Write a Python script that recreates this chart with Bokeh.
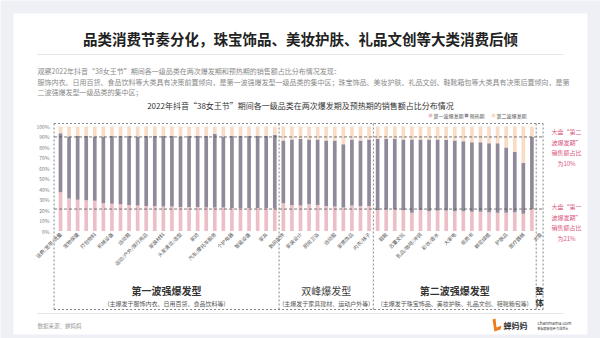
from bokeh.plotting import figure
from bokeh.models import Range1d
from bokeh.core.properties import value
from bokeh.embed import file_html
from bokeh.resources import INLINE

# ---------------- data ----------------
categories = [
    "话费/宽带/流量", "服饰配件", "宠物保健", "日用百货", "打包物料", "食品饮料", "机械设备", "服饰内衣",
    "运动鞋", "个护家清", "运动/户外/旅行用品", "厨房用具", "家装材料", "收纳整理", "头发清洁/造型", "母婴用品",
    "家纺", "汽车用品", "汽车/摩托车服务", "生鲜", "个护电器", "酒类", "智能设备", "手机", "家具", "电脑/办公",
    "数码配件", "家居日用", "家装设计", "灯具照明", "厨房卫浴", "户外装备", "运动服", "五金工具", "家居饰品", "运动器材",
    "内衣/袜子", "鞋靴箱包", "鞋靴", "玩具乐器", "古董文玩", "图书音像", "乳品/咖啡/冲调", "礼品文创", "彩妆/香水",
    "钟表配饰", "大家电", "营养保健", "纸质书", "珠宝饰品", "鲜花绿植", "美妆护肤", "护肤品", "箱包", "医疗器械",
    "奢侈品", "大盘",
]
first_wave = [
    37.0, 31.0, 30.0, 29.5, 29.0, 26.5, 26.0, 25.5, 25.0, 24.5, 24.0, 24.0, 23.5,
    23.5, 23.0, 23.0, 23.0, 22.5, 22.5, 22.5, 22.0, 22.0, 22.0, 22.0, 22.0, 21.5,
    26.5, 25.0, 24.5, 25.5, 25.0, 24.0, 23.5, 22.5, 24.5, 24.0, 24.0,
    20.0, 20.5, 20.5, 20.0, 17.5, 20.0, 19.0, 19.5, 19.5, 19.0, 19.0, 18.5, 18.5,
    18.0, 17.5, 17.5, 18.0, 16.5,
    21.0,
]
preheat = [
    56.5, 59.5, 61.0, 61.5, 61.5, 64.0, 65.0, 65.5, 66.0, 66.0, 67.0, 67.0, 67.5,
    67.5, 67.5, 68.0, 68.0, 68.5, 70.5, 68.0, 69.0, 69.0, 69.0, 69.0, 69.0, 70.5,
    60.0, 62.5, 63.5, 62.0, 62.5, 62.5, 63.0, 60.5, 63.0, 62.5, 63.5,
    68.0, 67.5, 67.5, 67.5, 70.0, 67.5, 68.5, 68.0, 67.5, 67.5, 67.0, 66.5, 66.5,
    66.0, 66.5, 62.5, 57.5, 48.5,
    69.0,
]
second_wave = [
    6.5, 9.5, 9.0, 9.0, 9.5, 9.5, 9.0, 9.0, 9.0, 9.5, 9.0, 9.0, 9.0,
    9.0, 9.5, 9.0, 9.0, 9.0, 7.0, 9.5, 9.0, 9.0, 9.0, 9.0, 9.0, 8.0,
    13.5, 12.5, 12.0, 12.5, 12.5, 13.5, 13.5, 17.0, 12.5, 13.5, 12.5,
    12.0, 12.0, 12.0, 12.5, 12.5, 12.5, 12.5, 12.5, 13.0, 13.5, 14.0, 15.0, 15.0,
    16.0, 16.0, 20.0, 24.5, 35.0,
    10.0,
]
group_sizes = [26, 11, 19, 1]
group_titles = ["第一波强爆发型", "双峰爆发型", "第二波强爆发型", "整\n体"]
group_notes = ["(主爆发于服饰内衣、日用百货、食品饮料等)", "(主爆发于家具建材、运动户外等)",
               "(主爆发于珠宝饰品、美妆护肤、礼品文创、鞋靴箱包等)", ""]
ref_first_wave = 21
ref_second_wave = 10
y_ticks = [0, 10, 20, 30, 40, 50, 60, 70, 80, 90, 100]
series_names = ["第一波爆发期", "预热期", "第二波爆发期"]

# ---------------- styling ----------------
FONT = value("Noto Sans CJK SC")
C_FIRST = "#ECBFC7"
C_PRE = "#8F8999"
C_SECOND = "#F9DCC6"
C_NOTE = "#D9577E"

n = len(categories)
xs = list(range(n))
step = 8.571
x0 = 60.0
p = figure(width=600, height=338, x_range=Range1d(-x0 / step, (600 - x0) / step),
           y_range=Range1d(-(338 - 230.5) / 1.045, 100 + 126 / 1.045),
           output_backend="svg", toolbar_location=None, min_border=0,
           x_axis_location=None, y_axis_location=None)
p.grid.visible = False
p.outline_line_color = None
p.background_fill_color = "#EEF0F6"
p.border_fill_color = "#EEF0F6"
p.extra_x_ranges = {"px": Range1d(0, 600)}
p.extra_y_ranges = {"px": Range1d(338, 0)}
PX = dict(x_range_name="px", y_range_name="px")

# card
p.quad(left=13, right=587, top=13, bottom=334, fill_color="white", line_color=None, **PX)

# title + separators
p.text(x=[300], y=[38], text=["品类消费节奏分化，珠宝饰品、美妆护肤、礼品文创等大类消费后倾"],
       text_font=FONT, text_font_size="14.5px", text_font_style="bold", text_color="#222222",
       text_align="center", text_baseline="middle", **PX)
p.segment(x0=[37, 37], y0=[54, 313], x1=[563, 563], y1=[54, 313], line_color="#E6E6E6", line_width=1, **PX)

body = ["观察2022年抖音“38女王节”期间各一级品类在两次爆发期和预热期的销售额占比分布情况发现：",
        "服饰内衣、日用百货、食品饮料等大类具有决策前置倾向，是第一波强爆发型一级品类的集中区；珠宝饰品、美妆护肤、礼品文创、鞋靴箱包等大类具有决策后置倾向，是第",
        "二波强爆发型一级品类的集中区；"]
p.text(x=[37, 37, 37], y=[70, 81, 91.5], text=body, text_font=FONT, text_font_size="7px",
       text_color="#8A8A8A", text_align="left", text_baseline="middle", **PX)
p.text(x=[300], y=[105], text=["2022年抖音“38女王节”期间各一级品类在两次爆发期及预热期的销售额占比分布情况"],
       text_font=FONT, text_font_size="8px", text_color="#333333", text_align="center",
       text_baseline="middle", **PX)

# legend
lx = [430, 466, 493]
p.rect(x=lx, y=[115] * 3, width=3.5, height=3.5, fill_color=[C_FIRST, C_PRE, C_SECOND],
       line_color=None, **PX)
p.text(x=[v + 3 for v in lx], y=[115] * 3, text=series_names, text_font=FONT, text_font_size="5px",
       text_color="#555555", text_align="left", text_baseline="middle", **PX)

# stacked bars
bw = 0.43
bot2 = [a + b for a, b in zip(first_wave, preheat)]
top3 = [a + b for a, b in zip(bot2, second_wave)]
p.vbar(x=xs, bottom=0, top=first_wave, width=bw, fill_color=C_FIRST, line_color=None)
p.vbar(x=xs, bottom=first_wave, top=bot2, width=bw, fill_color=C_PRE, line_color=None)
p.vbar(x=xs, bottom=bot2, top=top3, width=bw, fill_color=C_SECOND, line_color=None)

# y ticks
p.text(x=[49] * len(y_ticks), y=y_ticks, text=[f"{t}%" for t in y_ticks], text_font=FONT,
       text_font_size="5px", text_color="#777777", text_align="right", text_baseline="middle",
       x_range_name="px")

# x labels (every other)
lab_idx = xs[::2]
p.text(x=lab_idx, y=[-2] * len(lab_idx), text=[categories[i] for i in lab_idx], angle=0.785398,
       text_font=FONT, text_font_size="5px", text_color="#555555", text_align="right",
       text_baseline="middle")

# reference lines
p.segment(x0=[-0.75, -0.75], x1=[n - 0.7, n - 0.7], y0=[100 - ref_second_wave, ref_first_wave],
          y1=[100 - ref_second_wave, ref_first_wave], line_color="#555555", line_dash="3 2", line_width=0.8)

# group boxes
bounds = [-0.75]
acc = 0
for g in group_sizes[:-1]:
    acc += g
    bounds.append(acc - 0.5)
bounds.append(n - 0.7)
p.segment(x0=bounds, x1=bounds, y0=[123] * len(bounds), y1=[309] * len(bounds),
          line_color="#666666", line_dash="2 2", line_width=0.8, y_range_name="px")
p.segment(x0=[bounds[0]] * 2, x1=[bounds[-1]] * 2, y0=[123, 309], y1=[123, 309],
          line_color="#666666", line_dash="2 2", line_width=0.8, y_range_name="px")

centers = [(bounds[i] + bounds[i + 1]) / 2 for i in range(len(group_sizes))]
p.text(x=[centers[0], centers[2]], y=[290, 290], text=[group_titles[0], group_titles[2]], text_font=FONT,
       text_font_size="10px", text_font_style="bold", text_color="#333333", text_align="center",
       text_baseline="middle", y_range_name="px")
p.text(x=[centers[1]], y=[290], text=[group_titles[1]], text_font=FONT, text_font_size="10px",
       text_color="#444444", text_align="center", text_baseline="middle", y_range_name="px")
p.text(x=[centers[3], centers[3]], y=[290, 302], text=group_titles[3].split("\n"), text_font=FONT,
       text_font_size="8px", text_font_style="bold", text_color="#333333", text_align="center",
       text_baseline="middle", y_range_name="px")
p.text(x=centers[:3], y=[303] * 3, text=group_notes[:3], text_font=FONT, text_font_size="6px",
       text_color="#555555", text_align="center", text_baseline="middle", y_range_name="px")

# right annotations
ann1 = ["大盘“第二", "波爆发期”", "销售额占比", f"为{ref_second_wave}%"]
ann2 = ["大盘“第一", "波爆发期”", "销售额占比", f"为{ref_first_wave}%"]
p.text(x=[566] * 4, y=[131, 141.5, 152, 162.5], text=ann1, text_font=FONT, text_font_size="6px",
       text_color=C_NOTE, text_align="center", text_baseline="middle", **PX)
p.text(x=[566] * 4, y=[206, 216.5, 227, 237.5], text=ann2, text_font=FONT, text_font_size="6px",
       text_color=C_NOTE, text_align="center", text_baseline="middle", **PX)

# footer
p.text(x=[37], y=[325], text=["数据来源：蝉妈妈"], text_font=FONT, text_font_size="5.5px",
       text_color="#999999", text_align="left", text_baseline="middle", **PX)
p.patch(x=[492, 495, 496, 501, 500, 494], y=[319, 318, 327, 325, 329, 331], fill_color="#F07A1A",
        line_color=None, **PX)
p.text(x=[503], y=[325], text=["蝉妈妈"], text_font=FONT, text_font_size="8px", text_font_style="bold",
       text_color="#333333", text_align="left", text_baseline="middle", **PX)
p.text(x=[537, 537], y=[322, 328], text=["chanmama.com", "数据赋能电商 引爆增长"], text_font=FONT,
       text_font_size=["4.5px", "3px"], text_color="#444444", text_align="left", text_baseline="middle", **PX)

open("out.html", "w").write(file_html(p, INLINE))
